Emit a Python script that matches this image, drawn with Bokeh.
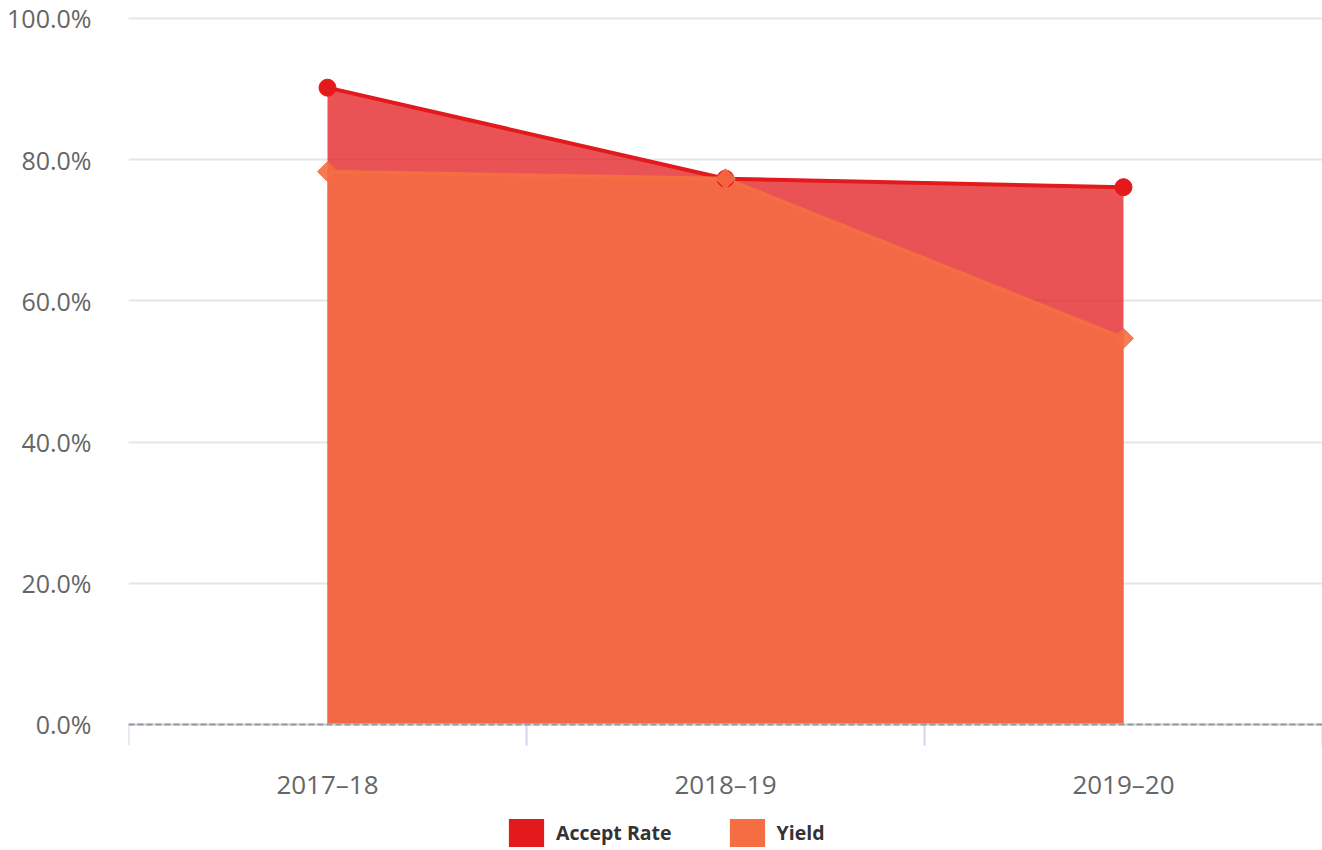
import math
from bokeh.plotting import figure
from bokeh.models import (ColumnDataSource, Range1d, FixedTicker, PrintfTickFormatter,
                          Legend, LegendItem, Span)
from bokeh.embed import file_html
from bokeh.resources import INLINE

categories = ["2017–18", "2018–19", "2019–20"]
accept_rate = [90.2, 77.3, 76.1]
yield_rate = [78.3, 77.3, 54.7]
y_ticks = [0, 20, 40, 60, 80, 100]

x_pos = [i + 0.5 for i in range(len(categories))]
src = ColumnDataSource(dict(x=x_pos, accept=accept_rate, yld=yield_rate,
                            zero=[0] * len(categories)))

ACCEPT = "#e31a1c"
YIELD = "#f46d43"

# frame extends below the zero line to hold the legend; x axis is pinned at y=0
p = figure(width=1322, height=850, output_backend="svg", toolbar_location=None,
           x_range=Range1d(0, len(categories)), y_range=Range1d(-17.85, 100.28),
           min_border_left=128, min_border_right=0, min_border_top=16, min_border_bottom=0)
p.outline_line_color = None

a_area = p.varea(x="x", y1="zero", y2="accept", source=src, fill_color=ACCEPT, fill_alpha=0.75)
y_area = p.varea(x="x", y1="zero", y2="yld", source=src, fill_color=YIELD, fill_alpha=0.85)
a_line = p.line(x="x", y="accept", source=src, line_color=ACCEPT, line_width=4)
y_line = p.line(x="x", y="yld", source=src, line_color=YIELD, line_width=4)
a_pts = p.scatter(x="x", y="accept", source=src, marker="circle", size=17,
                  fill_color=ACCEPT, line_color=ACCEPT)
y_pts = p.scatter(x="x", y="yld", source=src, marker="square", size=14, angle=math.pi / 4,
                  fill_color=YIELD, line_color=YIELD, fill_alpha=0.9)

# solid swatches for the legend (zero-height areas, nothing visible drawn)
a_key = p.varea(x="x", y1="zero", y2="zero", source=src, fill_color=ACCEPT, fill_alpha=1.0)
y_key = p.varea(x="x", y1="zero", y2="zero", source=src, fill_color=YIELD, fill_alpha=1.0)

# x axis
xa = p.xaxis[0]
xa.fixed_location = 0
xa.ticker = FixedTicker(ticks=x_pos, minor_ticks=list(range(len(categories) + 1)))
xa.major_label_overrides = {x: c for x, c in zip(x_pos, categories)}
xa.axis_line_color = "#ccd6eb"
xa.axis_line_width = 2
xa.major_tick_line_color = None
xa.major_tick_out = 0
xa.minor_tick_line_color = "#ccd6eb"
xa.minor_tick_line_width = 2
xa.minor_tick_in = 0
xa.minor_tick_out = 21
xa.major_label_standoff = 21
xa.major_label_text_font = "Open Sans"
xa.major_label_text_font_size = "26px"
xa.major_label_text_color = "#666666"
p.xgrid.grid_line_color = None

p.add_layout(Span(location=0, dimension="width", line_color="#999999",
                  line_width=2, line_dash="6 3"))

# y axis
ya = p.yaxis[0]
ya.ticker = FixedTicker(ticks=y_ticks)
ya.formatter = PrintfTickFormatter(format="%.1f%%")
ya.axis_line_color = None
ya.major_tick_line_color = None
ya.minor_tick_line_color = None
ya.major_label_standoff = 31
ya.major_label_text_font = "Open Sans"
ya.major_label_text_font_size = "25px"
ya.major_label_text_color = "#666666"
p.ygrid.grid_line_color = "#e6e6e6"
p.ygrid.grid_line_width = 2

legend = Legend(items=[LegendItem(label="Accept Rate", renderers=[a_key]),
                       LegendItem(label="Yield", renderers=[y_key])],
                orientation="horizontal", location=(376, 0))
legend.glyph_width = 44
legend.glyph_height = 35
legend.label_standoff = 8
legend.spacing = 53
legend.label_text_font = "Open Sans"
legend.label_text_font_style = "bold"
legend.label_text_font_size = "19.5px"
legend.label_text_color = "#333333"
legend.border_line_color = None
legend.background_fill_alpha = 0
legend.margin = 0
legend.padding = 0
p.add_layout(legend, "center")

open("out.html", "w").write(file_html(p, INLINE))
